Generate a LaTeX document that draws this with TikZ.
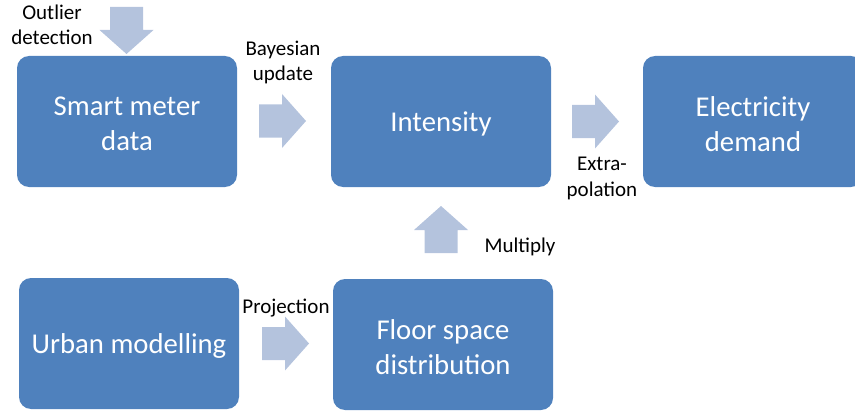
\documentclass[tikz,border=0pt]{standalone}
\usepackage{fontspec}
\setmainfont{Carlito}
\definecolor{boxblue}{HTML}{4F81BD}
\definecolor{arrowfill}{HTML}{B4C3DD}
\begin{document}
\begin{tikzpicture}[x=1pt,y=-1pt,
  box/.style={fill=boxblue, rounded corners=12pt, text=white, align=center,
    font=\fontsize{28.7}{34.5}\selectfont, inner sep=0pt},
  lbl/.style={text=black, align=center, font=\fontsize{21}{25.5}\selectfont, inner sep=0pt},
  blockarrow/.pic={\fill[arrowfill] (-47,16.5) -- (-24,16.5) -- (-24,27) -- (0,0)
     -- (-24,-27) -- (-24,-16.5) -- (-47,-16.5) -- cycle;}]
\useasboundingbox (0,0) rectangle (855,412);
\clip (0,0) rectangle (855,412);
% boxes
\path[box] (17,56) rectangle (237,187);
\node[box] (sm) at (127,124) {Smart meter\\data};
\path[box] (331,56) rectangle (551,187);
\node[box] (int) at (441,123.5) {Intensity};
\path[box] (643,56) rectangle (863,187);
\node[box] (ed) at (753,124) {Electricity\\demand};
\path[box] (19,278) rectangle (239,409);
\node[box] (um) at (129,346) {Urban modelling};
\path[box] (333,279) rectangle (553,410);
\node[box] (fs) at (443,347) {Floor space\\distribution};
% block arrows
\coordinate (a1) at (126.5,54);
\coordinate (a2) at (306,121);
\coordinate (a3) at (619,121.5);
\coordinate (a4) at (441,206);
\coordinate (a5) at (309,343.5);
\pic[rotate=-90] at (a1) {blockarrow};
\pic at (a2) {blockarrow};
\pic at (a3) {blockarrow};
\pic[rotate=90] at (a4) {blockarrow};
\pic at (a5) {blockarrow};
% labels
\node[lbl] (l1) at (52,25) {Outlier\\detection};
\node[lbl] (l2) at (283,62.5) {Bayesian\\update};
\node[lbl] (l3) at (602,178.5) {Extra-\\polation};
\node[lbl, anchor=base] (l4) at (520,252) {Multiply};
\node[lbl, anchor=base] (l5) at (286,313) {Projection};
\end{tikzpicture}
\end{document}
